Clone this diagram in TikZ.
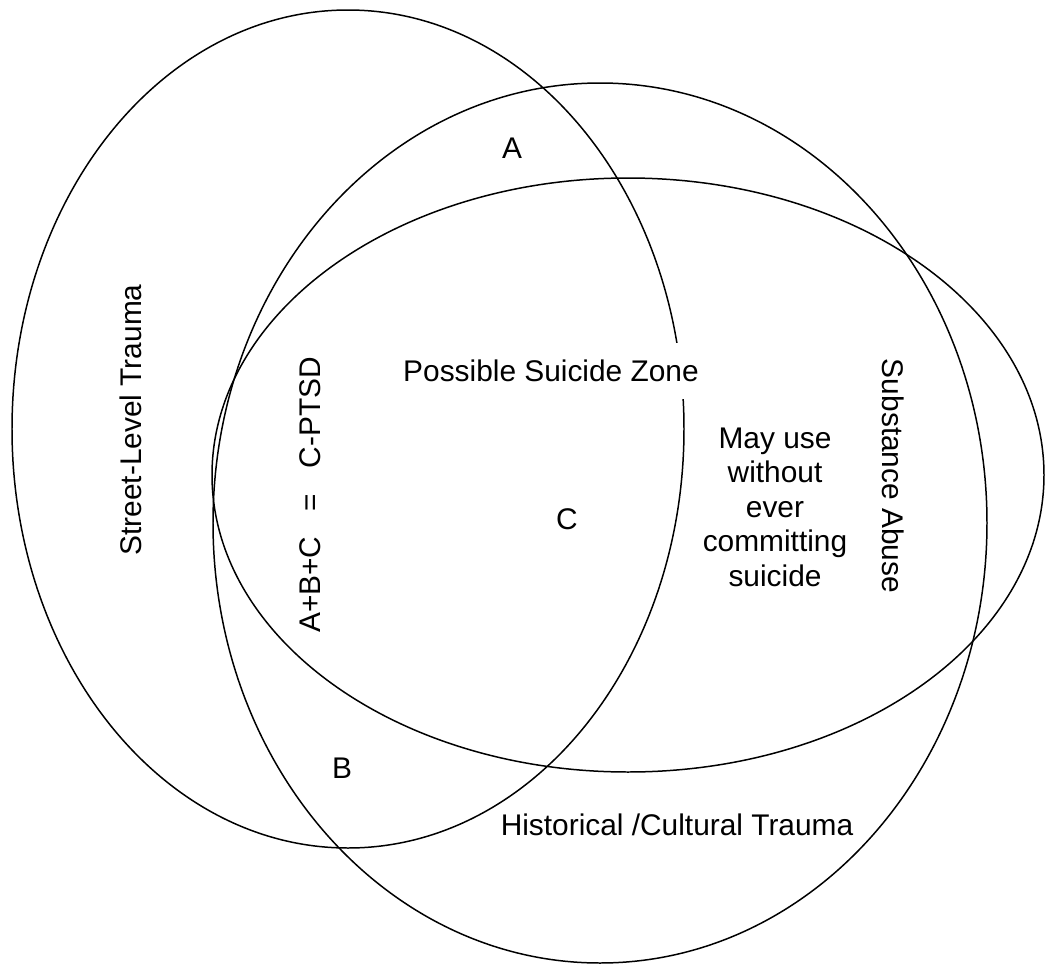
\documentclass[tikz,border=0pt]{standalone}
\usepackage{fontspec}
\setmainfont{Liberation Sans}

\begin{document}
\begin{tikzpicture}[
    x=0.02cm, y=-0.02cm,
    ring/.style={draw, line width=0.85pt},
    lbl/.style={font=\fontsize{17}{19.6}\selectfont, inner sep=0pt, align=center},
    vlbl/.style={lbl, rotate=90}
  ]
  \useasboundingbox (0,0) rectangle (1046,964);
  % --- centres of the three sets ---
  \coordinate (street) at (348,429);
  \coordinate (hist) at (600,523);
  \coordinate (subst) at (628,475);

  % --- the three sets ---
  \draw[ring] (street) ellipse [x radius=336, y radius=419];
  \draw[ring] (hist) ellipse [x radius=387, y radius=440];
  \draw[ring] (subst) ellipse [x radius=416, y radius=297];

  % --- set names ---
  \node[vlbl] (streetlbl) at (131,420) {Street-Level Trauma};
  \node[lbl, rotate=-90] (substlbl) at (893,476) {Substance Abuse};
  \node[lbl] (histlbl) at (677,825) {Historical /Cultural Trauma};

  % --- regions ---
  \node[lbl] (regA) at (512,148) {A};
  \node[lbl] (regB) at (342,768) {B};
  \node[lbl] (regC) at (567,519) {C};
  \node[vlbl] (ptsd) at (310,495) {A+B+C\hspace{0.85em}=\hspace{0.85em}C-PTSD};
  \node[lbl, fill=white, inner xsep=2pt, inner ysep=0.35cm] (zone) at (551,371)
    {Possible Suicide Zone};
  \node[lbl] (useonly) at (775,507)
    {May use\\without\\ever\\committing\\suicide};
\end{tikzpicture}
\end{document}
